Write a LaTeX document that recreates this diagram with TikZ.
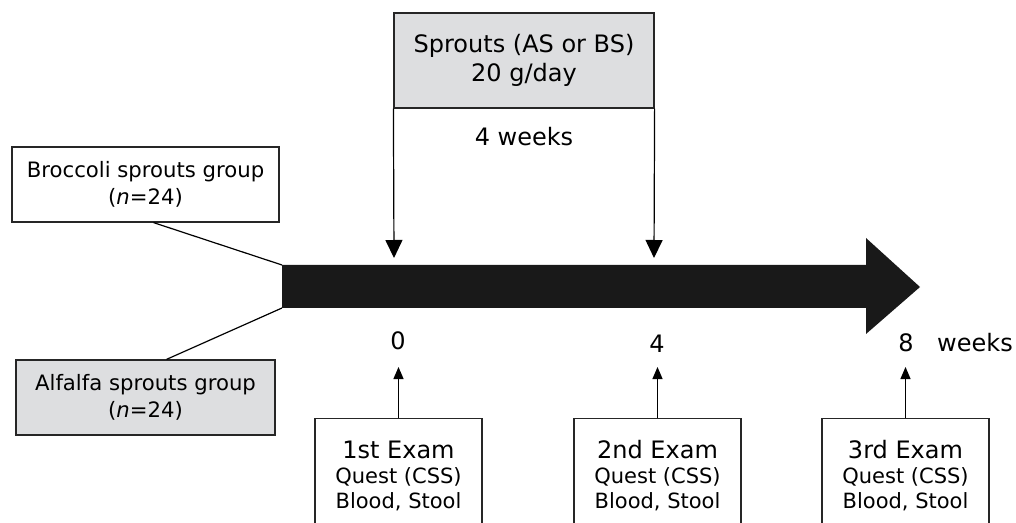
\documentclass[tikz,border=0pt]{standalone}
\usepackage{fontspec}
\setmainfont{DejaVu Sans}
\usetikzlibrary{arrows.meta}
\definecolor{boxgray}{RGB}{221,222,224}

\begin{document}
\begin{tikzpicture}[x=0.5pt,y=-0.5pt]
\tikzstyle{box} = [rectangle, draw = black!85, line width=0.6pt, inner sep=0pt, align=center, font=\fontsize{12}{14.5}\selectfont]
\tikzstyle{group} = [box, minimum height=37.5pt, font=\fontsize{10.6}{13.5}\selectfont]
\tikzstyle{exam} = [box, anchor=north, minimum width=83.5pt, minimum height=57pt, font=\fontsize{10.5}{12.5}\selectfont]
\tikzstyle{dose} = [-{Triangle[length=9pt,width=8.5pt]}, line width=0.6pt]
\tikzstyle{exarrow} = [-{Triangle[length=6pt,width=5pt]}, line width=0.6pt]
\tikzstyle{tlabel} = [font=\fontsize{12}{14}\selectfont]
\clip (0,0) rectangle (1016,523);
\node[box, fill=boxgray, minimum width=130pt, minimum height=47.5pt] (sprouts) at (524,60.5) {Sprouts (AS or BS)\\20 g/day};
\node[tlabel] (dur) at (524,137) {4 weeks};
\node[group, fill=white, minimum width=133.5pt] (broc) at (145.5,184.5) {Broccoli sprouts group\\(\textit{n}=24)};
\node[group, fill=boxgray, minimum width=129.5pt] (alf) at (145.5,397.5) {Alfalfa sprouts group\\(\textit{n}=24)};
\coordinate (tt) at (282,265);
\coordinate (tb) at (282,308);
\fill[black!90] (tt) -- (866,265) -- (866,238) -- (920,287) -- (866,334) -- (866,308) -- (tb) -- cycle;
\draw[line width=0.6pt] ([xshift=4pt]broc.south) -- (tt);
\draw[line width=0.6pt] ([xshift=10.5pt]alf.north) -- (tb);
\coordinate (s0) at (394,258);
\coordinate (s4) at (654,258);
\draw[dose] (sprouts.south west) -- (s0);
\draw[dose] (sprouts.south east) -- (s4);
\node[tlabel] (w0) at (398,341) {0};
\node[tlabel] (w4) at (657,344) {4};
\node[tlabel] (w8) at (906,343) {8};
\node[tlabel] (wk) at (975,343) {weeks};
\node[exam] (ex1) at (398.5,418) {{\fontsize{12}{14}\selectfont 1st Exam}\\Quest (CSS)\\Blood, Stool};
\node[exam] (ex2) at (657.5,418) {{\fontsize{12}{14}\selectfont 2nd Exam}\\Quest (CSS)\\Blood, Stool};
\node[exam] (ex3) at (905.5,418) {{\fontsize{12}{14}\selectfont 3rd Exam}\\Quest (CSS)\\Blood, Stool};
\coordinate (e0) at (398.5,367);
\coordinate (e4) at (657.5,367);
\coordinate (e8) at (905.5,367);
\draw[exarrow] (ex1) -- (e0);
\draw[exarrow] (ex2) -- (e4);
\draw[exarrow] (ex3) -- (e8);
\end{tikzpicture}
\end{document}
